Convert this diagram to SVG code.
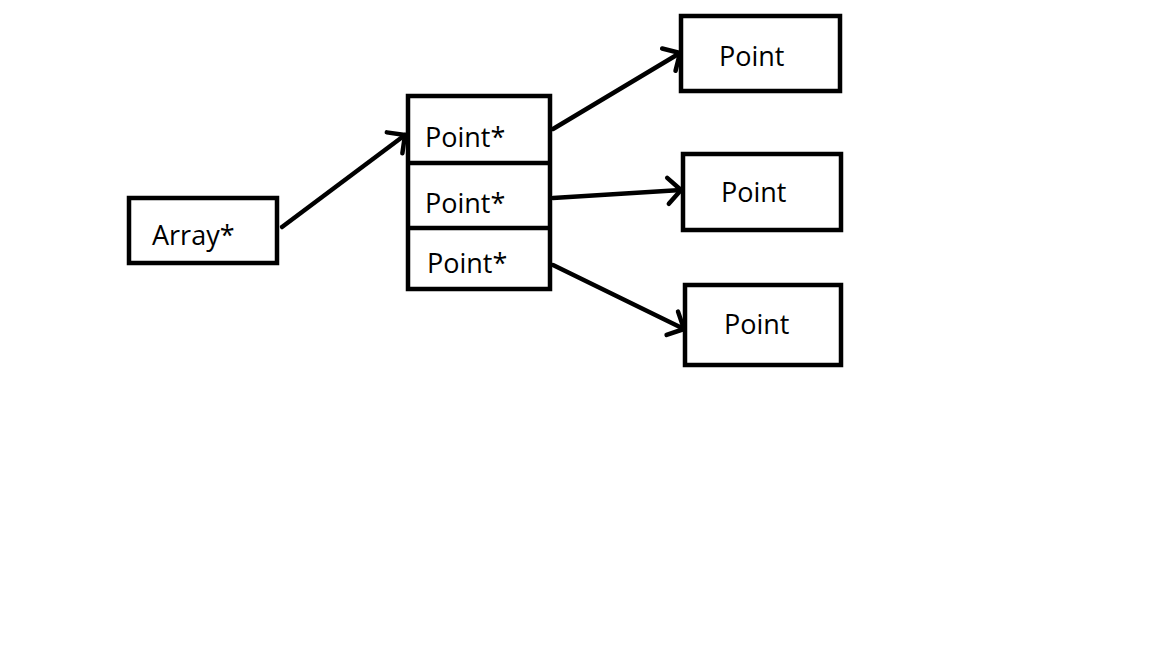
<svg xmlns="http://www.w3.org/2000/svg" width="1152" height="648" viewBox="0 0 1152 648">
  <style>
    .box { fill: #fff; stroke: #000; stroke-width: 4.5; }
    .div { stroke: #000; stroke-width: 4.5; }
    .lbl { font-family: "Open Sans", "Noto Sans", "DejaVu Sans", sans-serif; font-size: 27px; fill: #000; }
    .edge { fill: none; stroke: #000; stroke-width: 4.5; stroke-linecap: round; }
  </style>
  <defs>
    <marker id="arr" markerUnits="userSpaceOnUse" markerWidth="40" markerHeight="40" viewBox="-20 -20 40 40" refX="0" refY="0" orient="auto" overflow="visible">
      <path d="M -13 -13 L 0 0 L -13 13" fill="none" stroke="#000" stroke-width="4.5" stroke-linecap="round" stroke-linejoin="round"/>
    </marker>
  </defs>
  <rect width="1152" height="648" fill="#fff"/>

  <g id="array">
    <rect class="box" x="129" y="198" width="148" height="65"/>
    <text class="lbl" x="152" y="245">Array*</text>
  </g>

  <g id="pointers">
    <rect class="box" x="408" y="96" width="142" height="193"/>
    <line class="div" x1="408" y1="163" x2="550" y2="163"/>
    <line class="div" x1="408" y1="228" x2="550" y2="228"/>
    <text class="lbl" x="425" y="147">Point*</text>
    <text class="lbl" x="425" y="213">Point*</text>
    <text class="lbl" x="427" y="273">Point*</text>
  </g>

  <g id="point1">
    <rect class="box" x="681" y="16" width="159" height="75"/>
    <text class="lbl" x="719" y="66">Point</text>
  </g>
  <g id="point2">
    <rect class="box" x="683" y="154" width="158" height="76"/>
    <text class="lbl" x="721" y="202">Point</text>
  </g>
  <g id="point3">
    <rect class="box" x="685" y="285" width="156" height="80"/>
    <text class="lbl" x="724" y="334">Point</text>
  </g>

  <g id="connectors">
    <line class="edge" x1="282" y1="227" x2="405" y2="135" marker-end="url(#arr)"/>
    <line class="edge" x1="553" y1="129" x2="680" y2="53" marker-end="url(#arr)"/>
    <line class="edge" x1="553" y1="198" x2="681" y2="190" marker-end="url(#arr)"/>
    <line class="edge" x1="553" y1="265" x2="684" y2="329" marker-end="url(#arr)"/>
  </g>
</svg>
